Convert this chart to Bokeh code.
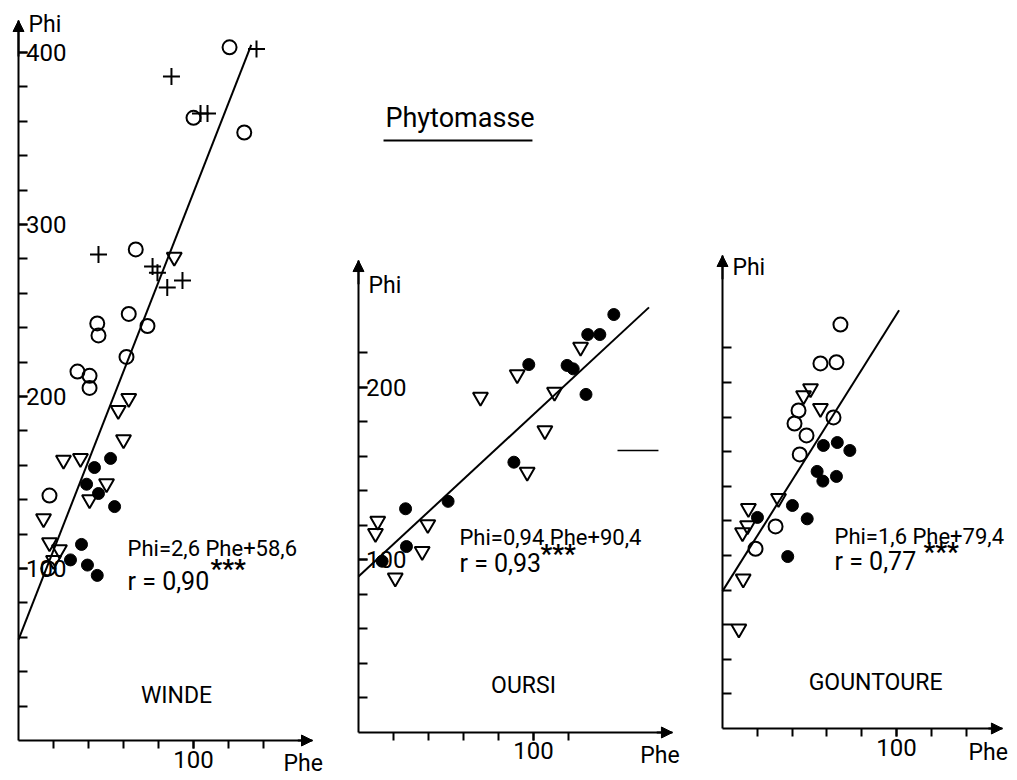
from bokeh.plotting import figure
from bokeh.layouts import row
from bokeh.models import Range1d, FixedTicker, Label, Arrow, NormalHead
from bokeh.embed import file_html
from bokeh.resources import INLINE

FONT = "Roboto"

# ---------------- data (Phe on x, Phi on y) ----------------
# WINDE
w_open_phe = [120.6, 100, 129, 67, 63, 45, 45.7, 73.7, 61.7, 33.7, 40.6, 40.6, 17.7, 17]
w_open_phi = [403, 362, 353.5, 285.5, 248, 242.5, 235.5, 241, 223, 214.5, 212, 205, 142.4, 100]
w_plus_phe = [136, 87.4, 104, 108, 45.7, 76.6, 79.4, 93.7, 85]
w_plus_phi = [402, 386, 364.5, 364.5, 282.5, 275.6, 272, 267.4, 263.4]
w_tri_phe = [89, 63, 57, 60, 25.7, 35.4, 50.3, 40.6, 14.3, 17.7, 23.4, 20]
w_tri_phi = [281, 199, 192, 175, 163, 164, 149.4, 140, 129, 115, 111, 104.7]
w_fill_phe = [43.4, 52.6, 38.9, 45.7, 54.9, 36, 29.7, 39.4, 45]
w_fill_phi = [158.7, 164, 149, 143.6, 136, 114, 105, 102, 96]

# OURSI
o_fill_phe = [145.9, 131, 137.9, 97.3, 119.2, 122.7, 130, 88.8, 51.2, 26.9, 27.4, 13.5]
o_fill_phi = [242.3, 230.7, 230.7, 213.3, 212.8, 210.8, 196, 156.7, 134, 129.7, 107.8, 99.3]
o_tri_phe = [126.9, 90.7, 112, 69.7, 106.5, 96.4, 39.6, 11, 9.7, 36.4, 21]
o_tri_phi = [223.4, 207.5, 197.3, 194.4, 175, 150.9, 120.6, 122.5, 115.5, 105, 89.7]
o_dash_phe = [148, 171.4]
o_dash_phi = [163.5, 163.5]

# GOUNTOURE
g_open_phe = [67.8, 56.3, 65.5, 43.7, 41.4, 63.8, 48.3, 44.4, 30.5, 19]
g_open_phi = [233.5, 211, 211.7, 183.8, 176.3, 179.8, 169.4, 158.4, 116.8, 103.9]
g_tri_phe = [50.6, 46.6, 56.3, 32.2, 14.9, 11.5, 14.4, 11.9, 9.4]
g_tri_phi = [196.5, 192.5, 185, 133, 127.2, 113.3, 117.3, 86.5, 57.6]
g_fill_phe = [58, 66, 73.2, 54.4, 57.7, 65.5, 40.2, 20.1, 48.7, 37.5]
g_fill_phi = [163.6, 165.3, 160.7, 148.6, 143, 145.7, 128.9, 122, 121.2, 99.4]

# regressions
sites = ["WINDE", "OURSI", "GOUNTOURE"]
slopes = [2.6, 0.94, 1.6]
intercepts = [58.6, 90.4, 79.4]
fit_end = [133, 166, 101.5]
equations = ["Phi=2,6 Phe+58,6", "Phi=0,94 Phe+90,4", "Phi=1,6 Phe+79,4"]
r_texts = ["r = 0,90", "r = 0,93", "r = 0,77"]

# ticks
x_ticks = [20, 40, 60, 80, 100, 120, 140]
x_labelled = [100]
y_ticks_w = list(range(20, 401, 20))
y_labelled_w = [100, 200, 300, 400]
y_ticks_s = list(range(20, 221, 20))
y_labelled_o = [100, 200]
y_labelled_g = []

H = 778


def make_panel(width, xr, yr, xmax, ymax, xlab, xminor, ylab, yminor):
    p = figure(width=width, height=H, output_backend="svg", toolbar_location=None,
               x_range=Range1d(*xr), y_range=Range1d(*yr),
               min_border_left=0, min_border_right=0,
               min_border_top=0, min_border_bottom=0)
    p.grid.visible = False
    p.outline_line_color = None
    p.background_fill_color = "white"
    p.border_fill_color = "white"
    for ax in (p.xaxis[0], p.yaxis[0]):
        ax.fixed_location = 0
        ax.axis_line_width = 2
        ax.axis_line_color = "black"
        ax.major_tick_line_width = 2
        ax.minor_tick_line_width = 2
        ax.major_tick_line_color = "black"
        ax.minor_tick_line_color = "black"
        ax.major_label_text_font = FONT
        ax.major_label_text_color = "black"
        ax.major_label_text_font_size = "24px"
    xa = p.xaxis[0]
    xa.bounds = (0, xmax)
    xa.ticker = FixedTicker(ticks=xlab, minor_ticks=xminor)
    xa.major_tick_in = 0
    xa.major_tick_out = 8
    xa.minor_tick_in = 0
    xa.minor_tick_out = 8
    xa.major_label_standoff = 2
    ya = p.yaxis[0]
    ya.bounds = (0, ymax)
    ya.ticker = FixedTicker(ticks=ylab, minor_ticks=yminor)
    ya.major_tick_in = 9
    ya.major_tick_out = 0
    ya.minor_tick_in = 9
    ya.minor_tick_out = 0
    ya.major_label_standoff = -48
    head = dict(size=11, fill_color="black", line_color="black", line_width=1)
    p.add_layout(Arrow(end=NormalHead(**head), x_start=0, y_start=ymax * 0.95,
                       x_end=0, y_end=ymax, line_width=2, line_color="black"))
    p.add_layout(Arrow(end=NormalHead(**head), x_start=xmax * 0.95, y_start=0,
                       x_end=xmax, y_end=0, line_width=2, line_color="black"))
    return p


def lab(p, x, y, text, size="22px", align="left", style="normal"):
    p.add_layout(Label(x=x, y=y, text=text, text_font=FONT, text_font_size=size,
                       text_font_style=style, text_align=align, text_baseline="middle",
                       text_color="black"))


def open_circles(p, xs, ys):
    p.scatter(xs, ys, marker="circle", size=14, fill_color=None, line_color="black", line_width=2)


def filled(p, xs, ys):
    p.scatter(xs, ys, marker="circle", size=12, fill_color="black", line_color="black", line_width=1)


def triangles(p, xs, ys):
    p.scatter(xs, ys, marker="inverted_triangle", size=15, fill_color=None, line_color="black", line_width=2)


def pluses(p, xs, ys):
    p.scatter(xs, ys, marker="cross", size=17, line_color="black", line_width=2)


def fit(p, i):
    xs = [0, fit_end[i]]
    ys = [intercepts[i] + slopes[i] * x for x in xs]
    p.line(xs, ys, line_color="black", line_width=2)


def annotate(p, i, phi_xy, phe_xy, eq_xy, r_xy, star_xy, site_xy):
    lab(p, phi_xy[0], phi_xy[1], "Phi", "23px")
    lab(p, phe_xy[0], phe_xy[1], "Phe", "23px")
    lab(p, eq_xy[0], eq_xy[1], equations[i], "22px")
    lab(p, r_xy[0], r_xy[1], r_texts[i], "25px")
    lab(p, star_xy[0], star_xy[1], "***", "26px", style="bold")
    lab(p, site_xy[0], site_xy[1], sites[i], "23px", "center")


# ---------------- WINDE ----------------
p1 = make_panel(328, (-10.29, 177.14), (-22.09, 430.23), 168, 418.6,
                x_labelled, x_ticks, y_labelled_w, y_ticks_w)
fit(p1, 0)
open_circles(p1, w_open_phe, w_open_phi)
pluses(p1, w_plus_phe, w_plus_phi)
triangles(p1, w_tri_phe, w_tri_phi)
filled(p1, w_fill_phe, w_fill_phi)
annotate(p1, 0, (5.7, 416), (151.4, -13.4), (62.3, 111.6), (62.3, 92.4), (109.7, 99.5), (90.3, 26.2))

# ---------------- OURSI ----------------
p2 = make_panel(372, (-17.14, 195.43), (-26.67, 424.35), 179.4, 273.6,
                x_labelled, x_ticks[:6], y_labelled_o, y_ticks_s)
fit(p2, 1)
filled(p2, o_fill_phe, o_fill_phi)
triangles(p2, o_tri_phe, o_tri_phi)
p2.line(o_dash_phe, o_dash_phi, line_color="black", line_width=1.5)
annotate(p2, 1, (5.7, 259), (161, -13.3), (57.7, 113), (57.7, 98), (104, 103.5), (94.3, 27.2))
lab(p2, 15.4, 356, "Phytomasse", "27px")
p2.add_layout(Arrow(end=None, x_start=14.3, y_start=343.2, x_end=99.4, y_end=343.2,
                    line_width=2, line_color="black"))

# ---------------- GOUNTOURE ----------------
p3 = make_panel(308, (-12.64, 164.4), (-28.9, 420.8), 160.9, 273.4,
                x_labelled, x_ticks, y_labelled_g, y_ticks_s)
fit(p3, 2)
open_circles(p3, g_open_phe, g_open_phi)
triangles(p3, g_tri_phe, g_tri_phi)
filled(p3, g_fill_phe, g_fill_phi)
annotate(p3, 2, (5.7, 266.5), (141.4, -13.9), (64.4, 111), (64.4, 96.5), (115.5, 102), (88, 26.6))

layout = row(p1, p2, p3)
open("out.html", "w").write(file_html(layout, INLINE))
